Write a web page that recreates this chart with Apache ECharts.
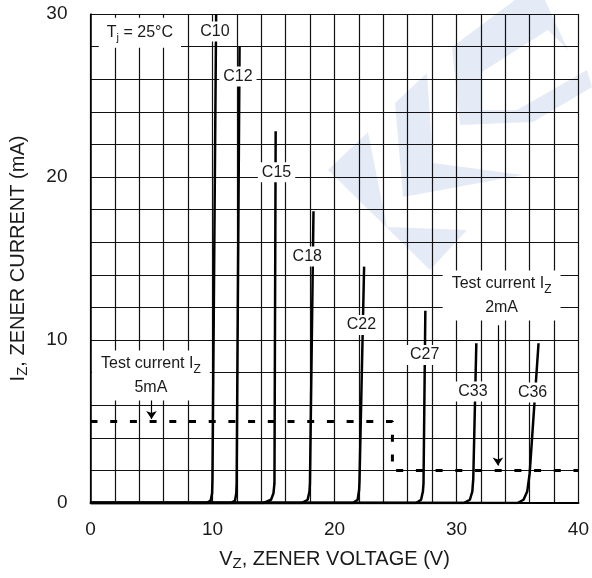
<!DOCTYPE html>
<html><head><meta charset="utf-8">
<script src="https://cdn.jsdelivr.net/npm/echarts@6/dist/echarts.min.js"></script>
<style>html,body{margin:0;padding:0;background:#fff}#c{width:592px;height:578px}</style>
</head><body><div id="c"></div>
<script>
// axis ticks
const xTicks = [0, 10, 20, 30, 40];
const yTicks = [0, 10, 20, 30];
const minorSteps = 5; // grid every 2 units

// zener curves (V, mA)
const c10 = [[0,0],[9.5,0],[9.85,0.15],[9.97,0.6],[10.0,1.5],[10.3,30]];
const c12 = [[0,0],[11.5,0],[11.85,0.15],[11.95,0.6],[11.98,1.2],[12.22,28]];
const c15 = [[0,0],[14.2,0],[14.8,0.2],[15.0,0.6],[15.08,1.2],[15.18,22.8]];
const c18 = [[0,0],[17.3,0],[17.8,0.2],[17.95,0.7],[17.99,1.2],[18.28,17.9]];
const c22 = [[0,0],[21.5,0],[21.9,0.2],[22.02,0.8],[22.05,1.3],[22.43,14.5]];
const c27 = [[0,0],[26.7,0],[27.1,0.2],[27.25,0.7],[27.3,1.2],[27.45,11.8]];
const c33 = [[0,0],[30.6,0],[31.1,0.2],[31.3,0.7],[31.38,1.5],[31.63,9.8]];
const c36 = [[0,0],[35.0,0],[35.5,0.2],[35.8,0.7],[36.0,1.8],[36.73,9.8]];
const curves = [c10, c12, c15, c18, c22, c27, c33, c36];

// curve labels: [text, V, mA]
const curveLabels = [
  ['C10', 10.2, 28.93], ['C12', 12.08, 26.17], ['C15', 15.25, 20.29], ['C18', 17.77, 15.12],
  ['C22', 22.21, 10.92], ['C27', 27.4, 9.08], ['C33', 31.35, 6.84], ['C36', 36.24, 6.78]
];

// test current line
const testCurrent = [[0,5],[24.75,5],[24.75,2],[40,2]];
const testLabels = [['5mA', 4.95, 7.82], ['2mA', 33.7, 12.73]];
const arrows = [[[5,6.45],[5,5.15]],[[33.4,10.9],[33.4,2.3]]];
const tjLabel = ['25°C', 4.05, 28.85];

const FONT = 'Liberation Sans, Arial, sans-serif';
const TXT = '#1a1a1a';

const chart = echarts.init(document.getElementById('c'), null, {renderer: 'canvas'});

const lineSeries = curves.map(d => ({
  type: 'line', data: d, symbol: 'none', silent: true, z: 3,
  lineStyle: {color: '#000', width: 2.5}
}));

const labelData = curveLabels.map(l => ({
  value: [l[1], l[2]],
  label: {formatter: l[0]}
}));
testLabels.forEach(l => labelData.push({
  value: [l[1], l[2]],
  label: {formatter: '{m|Test current I}{s|Z}\n{m|' + l[0] + '}', padding: [1, 9, 1, 9]}
}));
labelData.push({
  value: [tjLabel[1], tjLabel[2]],
  label: {formatter: '{t|T}{ts|j}{t| = ' + tjLabel[0] + '}', padding: [4, 8, 4, 8]}
});

const WM = '#e5ebf6';
const option = {
  animation: false,
  backgroundColor: '#fff',
  grid: {left: 90.5, right: 13, top: 14, bottom: 75},
  graphic: [{
    type: 'group', z: -10, silent: true,
    children: [
      {type: 'polygon', z: -10, shape: {points: [[328,170],[368,132],[387,227],[467,230],[430,270]]}, style: {fill: WM}},
      {type: 'polygon', z: -10, shape: {points: [[395,103],[427,73],[433,163],[523,175],[403,197]]}, style: {fill: WM}},
      {type: 'polygon', z: -10, shape: {points: [[452,47],[515,0],[545,0],[568,50],[548,30],[482,72],[482,110],[517,110],[587,70],[592,87],[533,122],[460,125]]}, style: {fill: WM}}
    ]
  }],
  xAxis: {
    type: 'value', min: xTicks[0], max: xTicks[xTicks.length-1], interval: xTicks[1]-xTicks[0],
    axisLine: {show: true, lineStyle: {color: '#000', width: 2}},
    axisTick: {show: false},
    minorTick: {show: false, splitNumber: minorSteps},
    splitLine: {show: true, lineStyle: {color: '#111', width: 1.2}},
    minorSplitLine: {show: true, lineStyle: {color: '#111', width: 1.2}},
    axisLabel: {color: TXT, fontSize: 19, fontFamily: FONT, margin: 17},
    name: '{m|V}{s|Z}{m|, ZENER VOLTAGE (V)}', nameLocation: 'middle', nameGap: 44,
    nameTextStyle: {
      color: TXT, fontFamily: FONT,
      rich: {
        m: {fontSize: 20, lineHeight: 24, fontFamily: FONT, color: TXT},
        s: {fontSize: 15, lineHeight: 12, verticalAlign: 'bottom', fontFamily: FONT, color: TXT}
      }
    }
  },
  yAxis: {
    type: 'value', min: yTicks[0], max: yTicks[yTicks.length-1], interval: yTicks[1]-yTicks[0],
    axisLine: {show: true, lineStyle: {color: '#000', width: 1.5}},
    axisTick: {show: false},
    minorTick: {show: false, splitNumber: minorSteps},
    splitLine: {show: true, lineStyle: {color: '#111', width: 1.2}},
    minorSplitLine: {show: true, lineStyle: {color: '#111', width: 1.2}},
    axisLabel: {color: TXT, fontSize: 19, fontFamily: FONT, margin: 23},
    name: '{m|I}{s|Z}{m|, ZENER CURRENT (mA)}', nameLocation: 'middle', nameGap: 60, nameRotate: 90,
    nameTextStyle: {
      color: TXT, fontFamily: FONT,
      rich: {
        m: {fontSize: 20, lineHeight: 24, fontFamily: FONT, color: TXT},
        s: {fontSize: 15, lineHeight: 12, verticalAlign: 'bottom', fontFamily: FONT, color: TXT}
      }
    }
  },
  series: [
    ...lineSeries,
    {
      type: 'line', data: testCurrent, symbol: 'none', silent: true, z: 4,
      lineStyle: {color: '#000', width: 3, type: [7, 12.7]}
    },
    {
      type: 'lines', coordinateSystem: 'cartesian2d', silent: true, z: 4,
      symbol: ['none', 'arrow'], symbolSize: 8,
      lineStyle: {color: '#000', width: 1.2, opacity: 1},
      data: arrows.map(a => ({coords: a}))
    },
    {
      type: 'scatter', data: labelData, symbolSize: 0, silent: true, z: 6,
      itemStyle: {opacity: 1},
      label: {
        show: true, position: 'inside', color: TXT, fontSize: 16, fontFamily: FONT, opacity: 1,
        backgroundColor: '#fff', padding: [2, 4, 2, 4], align: 'center',
        rich: {
          m: {fontSize: 16, lineHeight: 24, fontFamily: FONT, color: TXT, align: 'center'},
          s: {fontSize: 12, lineHeight: 13, verticalAlign: 'bottom', fontFamily: FONT, color: TXT},
          t: {fontSize: 16, lineHeight: 22, fontFamily: FONT, color: TXT},
          ts: {fontSize: 11, lineHeight: 12, verticalAlign: 'bottom', fontFamily: FONT, color: TXT}
        }
      }
    }
  ]
};
chart.setOption(option);
</script>
</body></html>
